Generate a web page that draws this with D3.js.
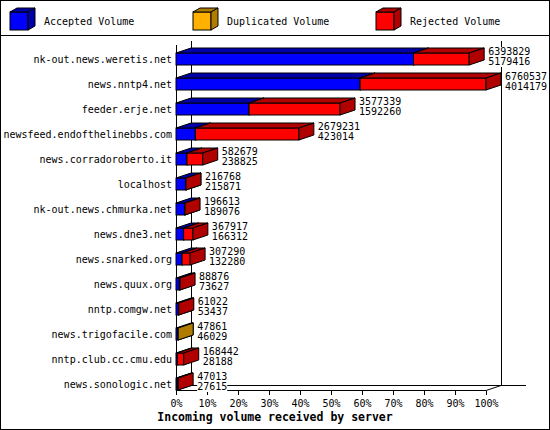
<!DOCTYPE html>
<html>
<head>
<meta charset="utf-8">
<script src="https://cdn.jsdelivr.net/npm/d3@7"></script>
<style>
  body { margin: 0; background: #fff; }
  text { font-family: "DejaVu Sans Mono", monospace; font-size: 10px; fill: #000; }
</style>
</head>
<body>
<svg width="550" height="430"></svg>
<script>
// data
const hosts = ["nk-out.news.weretis.net", "news.nntp4.net", "feeder.erje.net",
    "newsfeed.endofthelinebbs.com", "news.corradoroberto.it", "localhost",
    "nk-out.news.chmurka.net", "news.dne3.net", "news.snarked.org", "news.quux.org",
    "nntp.comgw.net", "news.trigofacile.com", "nntp.club.cc.cmu.edu", "news.sonologic.net"];
const totals = [6393829, 6760537, 3577339, 2679231, 582679, 216768, 196613,
    367917, 307290, 88876, 61022, 47861, 168442, 47013];
const accepted = [5179416, 4014179, 1592260, 423014, 238825, 215871, 189076,
    166312, 132280, 73627, 53437, 46029, 28188, 27615];
const duplicated = [0, 0, 0, 0, 0, 0, 0, 0, 0, 0, 0, 1832, 0, 0];
const rejected = [1214413, 2746358, 1985079, 2256217, 343854, 897, 7537,
    201605, 175010, 15249, 7585, 0, 140254, 19398];
const seriesNames = ["Accepted Volume", "Duplicated Volume", "Rejected Volume"];
const pctTicks = [0, 0.1, 0.2, 0.3, 0.4, 0.5, 0.6, 0.7, 0.8, 0.9, 1];

const colors = ["#0000ff", "#ffb000", "#ff0000"];
const darks = ["#0000a8", "#b07c00", "#b00000"];

const svg = d3.select("svg");
const dx = 15, dy = -5;

const x = d3.scaleLinear().domain([0, d3.max(totals)]).range([176, 486]);
const xPct = d3.scaleLinear().domain([0, 1]).range([176, 486]);
const y = d3.scalePoint().domain(hosts).range([59, 384]);
const barH = 12;

// frame + legend separator
svg.append("rect").attr("x", 0.5).attr("y", 0.5).attr("width", 549).attr("height", 429)
    .attr("fill", "none").attr("stroke", "#000");
svg.append("line").attr("x1", 0).attr("x2", 550).attr("y1", 35.5).attr("y2", 35.5).attr("stroke", "#000");

// draw a 3d box
function box(g, x0, x1, yTop, yBot, fill, dark, ddx, ddy) {
    g.append("rect").attr("x", x0).attr("y", yTop).attr("width", x1 - x0).attr("height", yBot - yTop)
        .attr("fill", fill).attr("stroke", "#000");
    g.append("path").attr("d", `M${x0},${yTop}L${x0 + ddx},${yTop + ddy}L${x1 + ddx},${yTop + ddy}L${x1},${yTop}Z`)
        .attr("fill", dark).attr("stroke", "#000");
    g.append("path").attr("d", `M${x1},${yTop}L${x1 + ddx},${yTop + ddy}L${x1 + ddx},${yBot + ddy}L${x1},${yBot}Z`)
        .attr("fill", dark).attr("stroke", "#000");
}

// legend
const legX = [10, 193, 376];
const legend = svg.append("g");
seriesNames.forEach((name, i) => {
    box(legend, legX[i], legX[i] + 18, 12, 30, colors[i], darks[i], 7, -4);
    legend.append("text").attr("x", legX[i] + 34).attr("y", 25).text(name);
});

// walls / axes
const x0 = xPct(0), x1 = xPct(1);
const yFront = 390.5, yTopFront = 45;
const walls = svg.append("g").attr("stroke", "#000").attr("shape-rendering", "crispEdges");
walls.append("line").attr("x1", x0 + dx + 0.5).attr("x2", x0 + dx + 0.5).attr("y1", yTopFront + dy + 1).attr("y2", yFront + dy);
walls.append("line").attr("x1", x1 + dx + 0.5).attr("x2", x1 + dx + 0.5).attr("y1", yTopFront + dy + 1).attr("y2", yFront + dy);
walls.append("line").attr("x1", x0 + dx).attr("x2", x1 + dx + 25).attr("y1", yFront + dy).attr("y2", yFront + dy);
walls.append("line").attr("x1", x0 + 0.5).attr("x2", x0 + 0.5).attr("y1", yTopFront).attr("y2", yFront);
walls.append("line").attr("x1", x0).attr("x2", x1).attr("y1", yFront).attr("y2", yFront);
svg.append("line").attr("x1", x1).attr("y1", yFront).attr("x2", x1 + dx).attr("y2", yFront + dy)
    .attr("stroke", "#000");

// bottom axis
const axis = svg.append("g").attr("transform", `translate(0,${yFront})`)
    .call(d3.axisBottom(xPct).tickValues(pctTicks).tickFormat(d3.format(".0%")).tickSize(4).tickPadding(4));
axis.select(".domain").remove();
axis.selectAll("line").attr("stroke", "#000").attr("shape-rendering", "crispEdges");
axis.selectAll("text").attr("font-family", null).attr("font-size", null).attr("fill", null).attr("dy", null).attr("y", 16.5);

// bars
const bars = svg.append("g");
hosts.forEach((h, i) => {
    const cy = y(h);
    let acc = 0;
    [accepted[i], duplicated[i], rejected[i]].forEach((v, s) => {
        if (v <= 0) return;
        box(bars, x(acc), x(acc + v), cy - barH / 2, cy + barH / 2, colors[s], darks[s], dx, dy);
        acc += v;
    });
});

// category labels
svg.append("g").selectAll("text").data(hosts).join("text")
    .attr("x", 172).attr("y", d => y(d) + 4).attr("text-anchor", "end").text(d => d);

// value labels, on a white patch like the original
const vals = svg.append("g");
hosts.forEach((h, i) => {
    const tx = x(totals[i]) + dx + 4;
    [[totals[i], y(h) - 4], [accepted[i], y(h) + 6]].forEach(([v, ty]) => {
        const bg = vals.append("rect").attr("fill", "#fff");
        const t = vals.append("text").attr("x", tx).attr("y", ty).text(v);
        const bb = t.node().getBBox();
        bg.attr("x", bb.x).attr("y", ty - 8).attr("width", bb.width).attr("height", 10);
    });
});

// x title
svg.append("text").attr("x", 275).attr("y", 421).attr("text-anchor", "middle")
    .style("font-weight", "bold").style("font-size", "11.5px")
    .text("Incoming volume received by server");
</script>
</body>
</html>
